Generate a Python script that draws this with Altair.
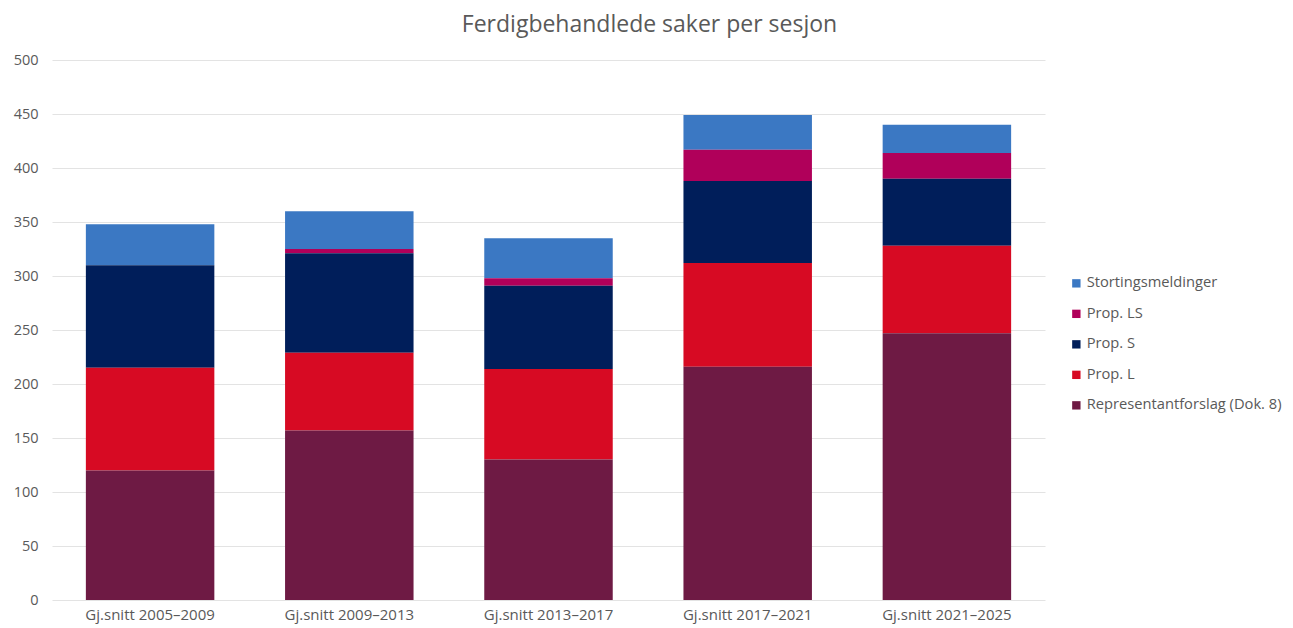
import altair as alt
import pandas as pd

periods = ["Gj.snitt 2005–2009", "Gj.snitt 2009–2013", "Gj.snitt 2013–2017",
           "Gj.snitt 2017–2021", "Gj.snitt 2021–2025"]
series = ["Stortingsmeldinger", "Prop. LS", "Prop. S", "Prop. L", "Representantforslag (Dok. 8)"]
colors = ["#3b78c3", "#b0005a", "#001e5a", "#d70a23", "#6e1a44"]

dok8 = [120, 157, 130, 216, 247]
prop_l = [95, 72, 84, 96, 81]
prop_s = [95, 92, 77, 76, 62]
prop_ls = [0, 4, 7, 29, 24]
storting = [38, 35, 37, 32, 26]

values = {
    "Stortingsmeldinger": storting,
    "Prop. LS": prop_ls,
    "Prop. S": prop_s,
    "Prop. L": prop_l,
    "Representantforslag (Dok. 8)": dok8,
}

rows = []
for s_i, s in enumerate(series):
    for p_i, p in enumerate(periods):
        rows.append({"periode": p, "serie": s, "antall": values[s][p_i], "ord": len(series) - s_i})
df = pd.DataFrame(rows)

FONT = "Open Sans"
GREY = "#595959"

chart = alt.Chart(df).mark_bar().encode(
    x=alt.X("periode:N", sort=periods, title=None,
            scale=alt.Scale(paddingInner=0.355, paddingOuter=0.17),
            axis=alt.Axis(labelAngle=0, ticks=False, domain=False, labelFontSize=15,
                          labelColor=GREY, labelFont=FONT, labelPadding=7)),
    y=alt.Y("antall:Q", stack="zero", title=None,
            scale=alt.Scale(domain=[0, 500]),
            axis=alt.Axis(values=list(range(0, 501, 50)), ticks=False, domain=False,
                          labelFontSize=14.5, labelColor=GREY, labelFont=FONT, labelPadding=14,
                          gridColor="#e3e3e3", gridWidth=1)),
    color=alt.Color("serie:N", sort=series,
                    scale=alt.Scale(domain=series, range=colors),
                    legend=alt.Legend(title=None, orient="none", legendX=1017, legendY=216,
                                      symbolType="square", symbolSize=70, symbolStrokeWidth=0,
                                      labelFontSize=14.7, labelColor=GREY, labelFont=FONT,
                                      labelLimit=0, rowPadding=14.5, labelOffset=3)),
    order=alt.Order("ord:Q", sort="ascending"),
).properties(
    width=993,
    height=540,
    autosize=alt.AutoSizeParams(type="none"),
    padding={"left": 52, "top": 60, "right": 248, "bottom": 28},
    title=alt.TitleParams("Ferdigbehandlede saker per sesjon", fontSize=23, font=FONT,
                          fontWeight="normal", color=GREY, anchor="middle", dx=101, offset=15),
).configure_view(stroke=None)

chart.save("out.html", embed_options={"renderer": "svg", "actions": False})
